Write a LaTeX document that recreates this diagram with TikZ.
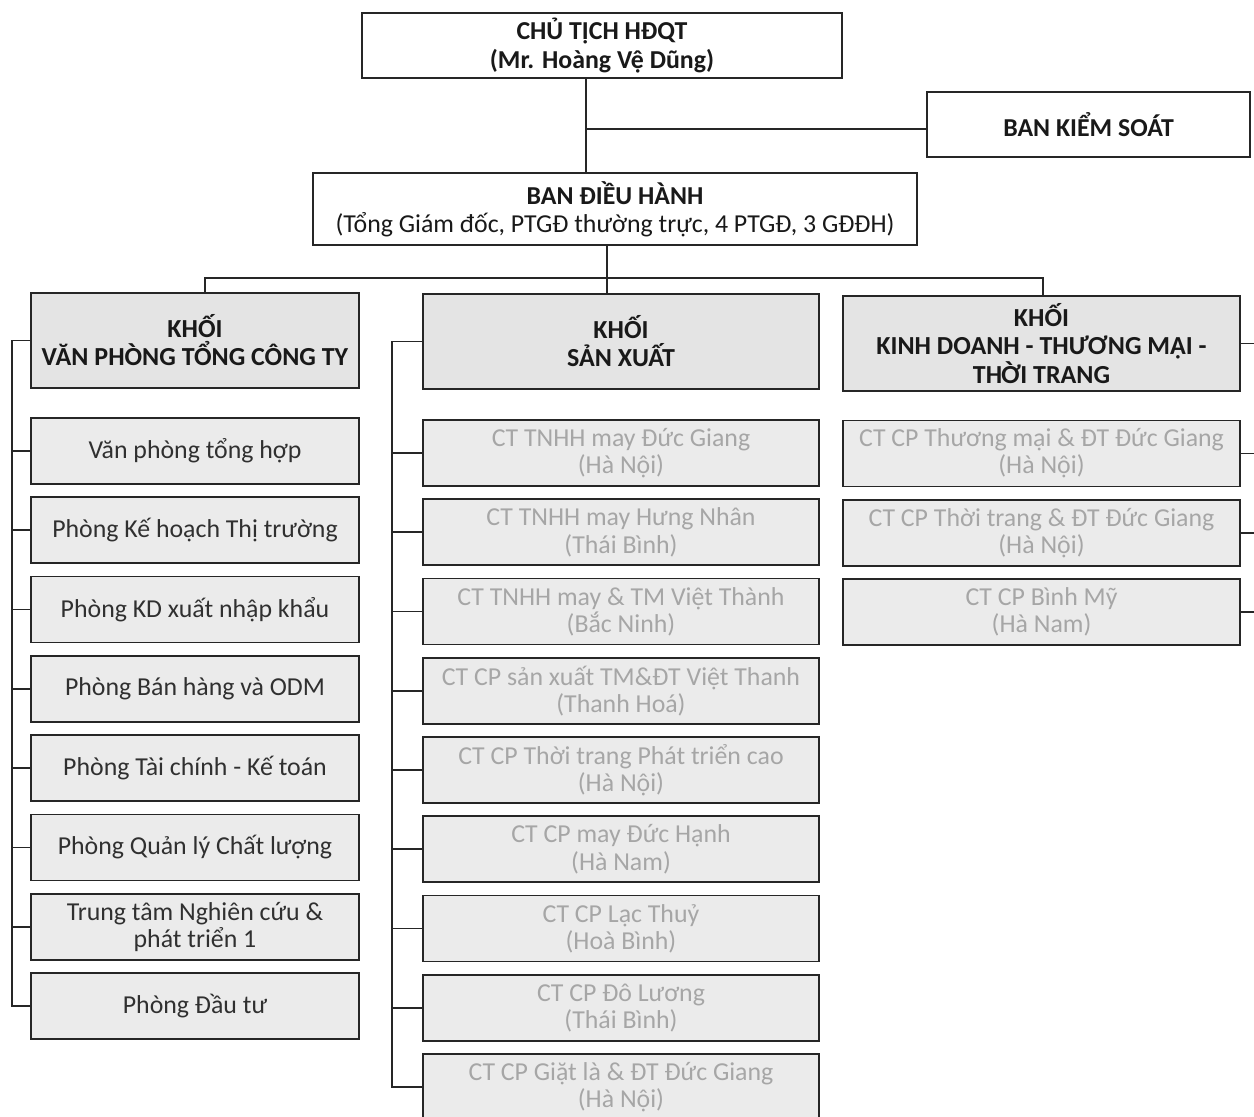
\documentclass[tikz,border=0pt]{standalone}
\usepackage{fontspec}
\setmainfont{Carlito}
\usetikzlibrary{positioning}
\definecolor{headgray}{HTML}{E4E4E4}
\definecolor{subgray}{HTML}{EBEBEB}
\definecolor{fadetext}{HTML}{A6A6A6}
\definecolor{darktext}{HTML}{303030}

\tikzset{
  box/.style={draw=black!85, line width=1pt, inner sep=0pt, align=center,
    font=\fontsize{14.7}{15.5}\selectfont, text=darktext},
  topbox/.style={box, fill=white, font=\fontsize{14.7}{16}\selectfont\bfseries, text=black!90},
  headbox/.style={box, fill=headgray, minimum height=1.9cm,
    font=\fontsize{14.8}{16}\selectfont\bfseries, text=black!90},
  officebox/.style={box, fill=subgray, minimum width=6.56cm, minimum height=1.32cm},
  firmbox/.style={box, fill=subgray, minimum width=7.92cm, minimum height=1.32cm, text=fadetext},
  link/.style={draw=black!85, line width=1pt}
}

\begin{document}
\begin{tikzpicture}[x=0.02cm, y=-0.02cm]

    \useasboundingbox (0,0) rectangle (1254,1116);
    \clip (0,0) rectangle (1254,1116);

    % top of the chart
    \node[topbox, minimum width=9.6cm, minimum height=1.3cm] (chairman) at (602,45.5)
        {CHỦ TỊCH HĐQT\\(Mr. Hoàng Vệ Dũng)};
    \node[topbox, minimum width=6.46cm, minimum height=1.3cm] (supervisory) at (1088.5,124.5)
        {BAN KIỂM SOÁT};
    \node[topbox, minimum width=12.08cm, minimum height=1.44cm] (board) at (615,209)
        {BAN ĐIỀU HÀNH\\\mdseries(Tổng Giám đốc, PTGĐ thường trực, 4 PTGĐ, 3 GĐĐH)};

    % the three blocks
    \node[headbox, minimum width=6.56cm] (office) at (195,340.5)
        {KHỐI\\VĂN PHÒNG TỔNG CÔNG TY};
    \node[headbox, minimum width=7.92cm] (production) at (621,341.5)
        {KHỐI\\SẢN XUẤT};
    \node[headbox, minimum width=7.94cm] (trade) at (1041.5,343.5)
        {KHỐI\\KINH DOANH - THƯƠNG MẠI -\\THỜI TRANG};

    % office departments
    \foreach \txt [count=\i] in {Văn phòng tổng hợp, Phòng Kế hoạch Thị trường,
        Phòng KD xuất nhập khẩu, Phòng Bán hàng và ODM, Phòng Tài chính - Kế toán,
        Phòng Quản lý Chất lượng, Trung tâm Nghiên cứu \&\\phát triển 1, Phòng Đầu tư}
      \node[officebox] (o\i) at (195,{451+79.3*(\i-1)}) {\txt};

    % production companies
    \foreach \txt [count=\i] in {CT TNHH may Đức Giang\\(Hà Nội),
        CT TNHH may Hưng Nhân\\(Thái Bình), CT TNHH may \& TM Việt Thành\\(Bắc Ninh),
        CT CP sản xuất TM\&ĐT Việt Thanh\\(Thanh Hoá), CT CP Thời trang Phát triển cao\\(Hà Nội),
        CT CP may Đức Hạnh\\(Hà Nam), CT CP Lạc Thuỷ\\(Hoà Bình),
        CT CP Đô Lương\\(Thái Bình), CT CP Giặt là \& ĐT Đức Giang\\(Hà Nội)}
      \node[firmbox] (p\i) at (621,{453+79.25*(\i-1)}) {\txt};

    % trade companies
    \foreach \txt [count=\i] in {CT CP Thương mại \& ĐT Đức Giang\\(Hà Nội),
        CT CP Thời trang \& ĐT Đức Giang\\(Hà Nội), CT CP Bình Mỹ\\(Hà Nam)}
      \node[firmbox, minimum width=7.94cm] (t\i) at (1041.5,{453.5+79.3*(\i-1)}) {\txt};

    % connectors at the top
    \coordinate (spine) at (586,129);
    \draw[link] (spine |- chairman.south) -- (spine |- board.north);
    \draw[link] (spine) -- (spine -| supervisory.west);

    \coordinate (busL) at (205,278);
    \coordinate (busM) at (607,278);
    \coordinate (busR) at (1043,278);
    \draw[link] (busM |- board.south) -- (busM |- production.north);
    \draw[link] (busL |- office.north) -- (busL) -- (busR) -- (busR |- trade.north);

    % brackets
    \coordinate (railL) at (12,0);
    \coordinate (railM) at (392,0);
    \coordinate (railR) at (1258,0);
    \draw[link] (office.west) -| (railL |- o8.west) -- (o8.west);
    \foreach \i in {1,...,7}
      \draw[link] (o\i.west) -- (railL |- o\i.west);
    \draw[link] (production.west) -| (railM |- p9.west) -- (p9.west);
    \foreach \i in {1,...,8}
      \draw[link] (p\i.west) -- (railM |- p\i.west);
    \draw[link] (trade.east) -| (railR |- t3.east) -- (t3.east);
    \foreach \i in {1,2}
      \draw[link] (t\i.east) -- (railR |- t\i.east);

\end{tikzpicture}
\end{document}
